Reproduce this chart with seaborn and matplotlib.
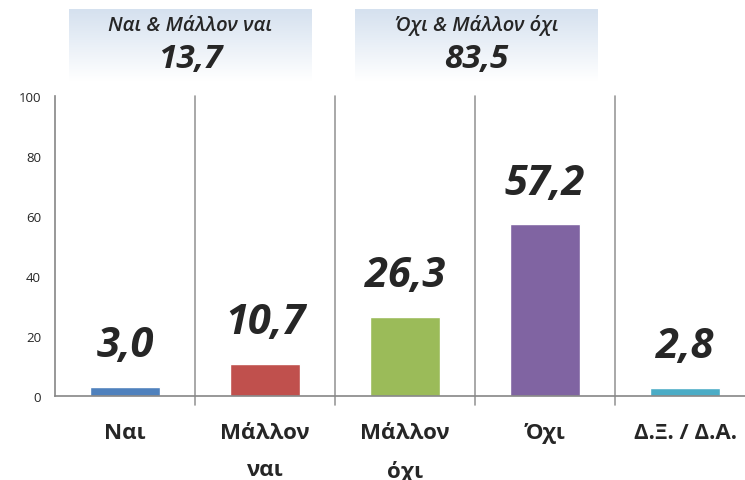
import matplotlib
matplotlib.use('Agg')
import matplotlib.pyplot as plt
import seaborn as sns
import numpy as np
import pandas as pd

# --- DATOS ---
categorias = ['Ναι', 'Μάλλον\nναι', 'Μάλλον\nόχι', 'Όχι', 'Δ.Ξ. / Δ.Α.']
valores = [3.0, 10.7, 26.3, 57.2, 2.8]
colores = ['#4F81BD', '#C0504D', '#9BBB59', '#8064A2', '#4BACC6']
grupos_titulo = ['Ναι & Μάλλον ναι', 'Όχι & Μάλλον όχι']
grupos_valor = [13.7, 83.5]
y_ticks = [0, 20, 40, 60, 80, 100]

def fmt(v):
    return f"{v:.1f}".replace('.', ',')

sns.set_style('white')
plt.rcParams['font.family'] = ['Open Sans', 'DejaVu Sans']

df = pd.DataFrame({'cat': categorias, 'val': valores})

fig = plt.figure(figsize=(7.45, 4.81), dpi=100)
ax = fig.add_axes([55 / 745, 1 - 397 / 481, 700 / 745, 300 / 481])

sns.barplot(data=df, x='cat', y='val', hue='cat', palette=colores,
            width=0.507, dodge=False, legend=False, ax=ax, saturation=1)

ax.set_xlim(-0.5, len(categorias) - 0.5)
ax.set_ylim(0, 100)
ax.set_yticks(y_ticks)
ax.set_yticklabels([str(t) for t in y_ticks], fontsize=9.5)
ax.set_xlabel('')
ax.set_ylabel('')

gris = '#868686'
for s in ['top', 'right']:
    ax.spines[s].set_visible(False)
ax.spines['left'].set_color(gris)
ax.spines['bottom'].set_color(gris)
ax.spines['left'].set_linewidth(1.2)
ax.spines['bottom'].set_linewidth(1.2)
ax.tick_params(axis='y', length=4, color=gris, width=1.2, pad=6)
ax.tick_params(axis='x', length=0)
ax.set_xticks(range(len(categorias)))
ax.set_xticklabels([])

# etiquetas de categorías (texto propio para controlar el interlineado)
for i, c in enumerate(categorias):
    ax.annotate(c, (i, 0), xytext=(0, -19), textcoords='offset points',
                ha='center', va='top', fontsize=16, fontweight='bold',
                linespacing=2.0, annotation_clip=False)

# líneas separadoras
for i in range(len(categorias) - 1):
    ax.plot([i + 0.5, i + 0.5], [-3, 100], color='#9a9a9a', lw=1.2, clip_on=False)

# etiquetas de valores
for i, v in enumerate(valores):
    ax.annotate(fmt(v), (i, v), xytext=(0, 15), textcoords='offset points',
                ha='center', va='bottom', fontsize=30, fontweight='bold',
                fontstyle='italic')

# cajas superiores con degradado
grad = np.linspace(0, 1, 100).reshape(-1, 1)
cmap = matplotlib.colors.LinearSegmentedColormap.from_list('g', ['#d5e1ef', '#ffffff'])
cajas_x = [69, 355]
for x0, tit, val in zip(cajas_x, grupos_titulo, grupos_valor):
    bx = fig.add_axes([x0 / 745, 1 - 82 / 481, 243 / 745, 72 / 481])
    bx.imshow(grad, aspect='auto', cmap=cmap, extent=[0, 1, 0, 1])
    bx.axis('off')
    bx.text(0.5, 1 - 16 / 72, tit, ha='center', va='center', fontsize=14.5,
            fontstyle='italic', fontweight='semibold', transform=bx.transAxes)
    bx.text(0.5, 1 - 50 / 72, fmt(val), ha='center', va='center', fontsize=24,
            fontstyle='italic', fontweight='bold', transform=bx.transAxes)

fig.savefig('out.png', dpi=100)
